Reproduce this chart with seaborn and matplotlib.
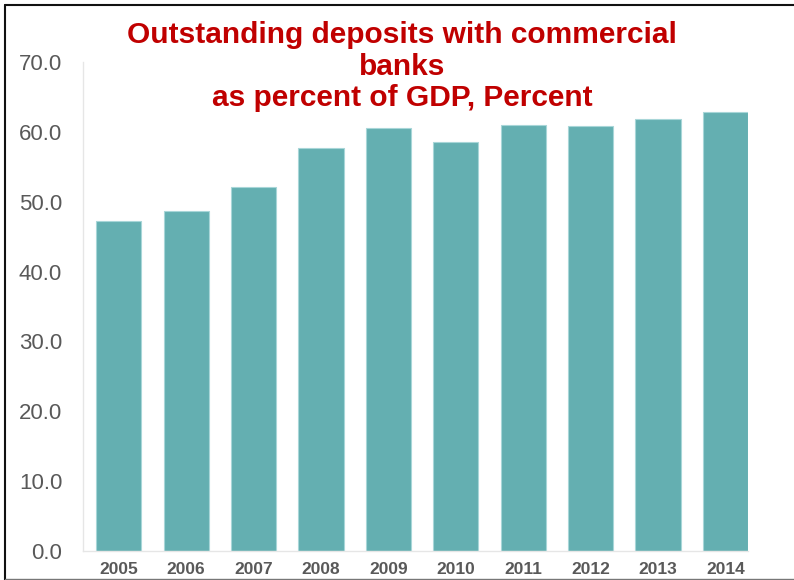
import matplotlib
matplotlib.use("Agg")
import matplotlib.pyplot as plt
from matplotlib.lines import Line2D
import seaborn as sns
import pandas as pd

years = ["2005", "2006", "2007", "2008", "2009", "2010", "2011", "2012", "2013", "2014"]
deposits_pct_gdp = [47.3, 48.7, 52.1, 57.7, 60.5, 58.6, 61.0, 60.8, 61.8, 62.9]
y_ticks = [0, 10, 20, 30, 40, 50, 60, 70]

df = pd.DataFrame({"year": years, "value": deposits_pct_gdp})

sns.set_theme(style="white")
plt.rcParams["font.family"] = ["Liberation Sans", "DejaVu Sans"]

fig = plt.figure(figsize=(7.94, 5.80), dpi=100)
ax = fig.add_axes([83 / 794, 1 - 551 / 580, (748 - 83) / 794, (551 - 62) / 580])

sns.barplot(data=df, x="year", y="value", color="#64afb1", saturation=1,
            width=0.67, edgecolor="#a8d6d8", linewidth=0.8, ax=ax)

ax.set_ylim(0, 70)
ax.set_xlim(-0.53, len(years) - 1 + 0.335)
ax.set_yticks(y_ticks)
ax.set_yticklabels([f"{v:.1f}" for v in y_ticks], color="#595959", fontsize=16)
ax.set_xticks(range(len(years)))
ax.set_xticklabels(years, color="#595959", fontsize=12.5, fontweight="bold")
ax.tick_params(axis="y", length=0, pad=15)
ax.tick_params(axis="x", length=0, pad=8)
ax.set_xlabel("")
ax.set_ylabel("")

for side in ["top", "right"]:
    ax.spines[side].set_visible(False)
for side in ["left", "bottom"]:
    ax.spines[side].set_color("#e6e6e6")
    ax.spines[side].set_linewidth(1.0)

fig.text(402 / 794, 1 - 21 / 580,
         "Outstanding deposits with commercial\nbanks\nas percent of GDP, Percent",
         ha="center", va="top", multialignment="center",
         fontsize=21.5, fontweight="bold", color="#c00000", linespacing=1.17)

# outer frame
fig.add_artist(Line2D([5 / 794, 1], [1 - 5 / 580, 1 - 5 / 580],
                      transform=fig.transFigure, color="#111111", linewidth=1.5))
fig.add_artist(Line2D([5 / 794, 5 / 794], [0, 1 - 5 / 580],
                      transform=fig.transFigure, color="#111111", linewidth=1.5))
fig.add_artist(Line2D([5 / 794, 1], [1.5 / 580, 1.5 / 580],
                      transform=fig.transFigure, color="#777777", linewidth=1.0))

fig.savefig("out.png", dpi=100)
